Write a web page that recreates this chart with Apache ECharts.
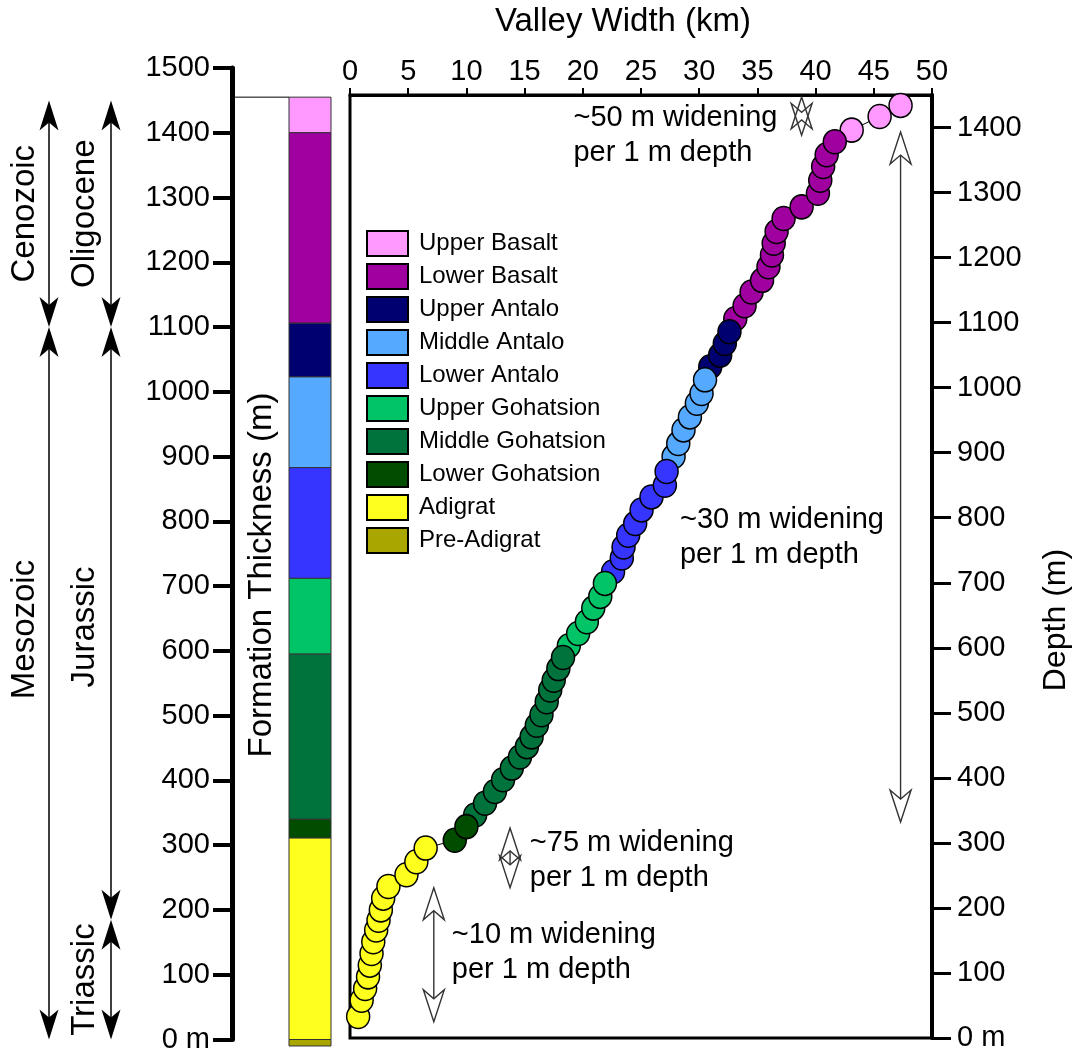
<!DOCTYPE html>
<html>
<head>
<meta charset="utf-8">
<script src="https://cdn.jsdelivr.net/npm/echarts@6/dist/echarts.min.js"></script>
<style>
  html, body { margin: 0; padding: 0; background: #fff; }
  #chart { width: 1076px; height: 1054px; }
</style>
</head>
<body>
<div id="chart"></div>
<script>
const FONT = '"Liberation Sans", Arial, Helvetica, sans-serif';

// Formations, youngest to oldest
const formationNames = ['Upper Basalt', 'Lower Basalt', 'Upper Antalo', 'Middle Antalo', 'Lower Antalo',
  'Upper Gohatsion', 'Middle Gohatsion', 'Lower Gohatsion', 'Adigrat', 'Pre-Adigrat'];
const formationColors = ['#ff99ff', '#a000a0', '#000070', '#55aaff', '#3535ff',
  '#00c466', '#00723c', '#004d00', '#ffff1e', '#aaa600'];

// Stratigraphic column: base and top of each formation (m above the base)
const formationBase = [1400, 1106, 1023, 883, 712, 595, 340, 311, 0, -10];
const formationTop  = [1455, 1400, 1106, 1023, 883, 712, 595, 340, 311, 0];

// Valley width (km) against depth (m), one list per formation
const upperBasalt = [[43.1, 1396], [45.5, 1417], [47.3, 1434]];
const lowerBasalt = [[33.1, 1106], [33.9, 1126], [34.5, 1147], [35.4, 1165], [35.95, 1186],
  [36.25, 1204], [36.4, 1222], [36.65, 1240], [37.25, 1260], [38.8, 1278], [40.2, 1299],
  [40.4, 1319], [40.65, 1340], [40.95, 1358], [41.65, 1378]];
const upperAntalo = [[30.95, 1032], [31.8, 1050], [32.2, 1068], [32.6, 1086]];
const middleAntalo = [[27.8, 894], [28.2, 914], [28.65, 935], [29.2, 955], [29.8, 976],
  [30.2, 991], [30.5, 1012]];
const lowerAntalo = [[22.6, 717], [23.35, 738], [23.5, 755], [23.9, 773], [24.5, 791],
  [25.05, 812], [25.9, 832], [27.05, 850], [27.2, 871]];
const upperGohatsion = [[18.8, 603], [19.6, 622], [20.35, 640], [20.9, 661], [21.5, 679], [21.9, 699]];
const middleGohatsion = [[10.75, 343], [11.6, 361], [12.45, 379], [13.15, 397], [13.9, 415],
  [14.6, 432], [15.2, 448], [15.6, 463], [16.05, 481], [16.45, 497], [16.9, 517], [17.2, 535],
  [17.5, 550], [17.9, 568], [18.3, 585]];
const lowerGohatsion = [[9.0, 304], [10.0, 325]];
const adigrat = [[0.7, 33], [1.0, 58], [1.3, 76], [1.55, 94], [1.7, 112], [1.85, 130], [2.0, 148],
  [2.25, 166], [2.45, 181], [2.65, 197], [2.85, 215], [3.3, 233], [4.85, 251], [5.7, 271], [6.5, 292]];
const preAdigrat = [];

const formationPoints = [upperBasalt, lowerBasalt, upperAntalo, middleAntalo, lowerAntalo,
  upperGohatsion, middleGohatsion, lowerGohatsion, adigrat, preAdigrat];

// Geological time spans (name, top m, base m)
const eras = [['Cenozoic', 1450, 1100], ['Mesozoic', 1100, 0]];
const periods = [['Oligocene', 1450, 1100], ['Jurassic', 1100, 185], ['Triassic', 185, 0]];

// Widening-rate notes: text, width (km), depth (m) of first line
const notes = [
  ['~50 m widening\nper 1 m depth', 19.2, 1415],
  ['~30 m widening\nper 1 m depth', 28.35, 796],
  ['~75 m widening\nper 1 m depth', 15.45, 300],
  ['~10 m widening\nper 1 m depth', 8.75, 158]
];
// Depth ranges the notes refer to: width (km), upper depth, lower depth
const rateRanges = [[38.8, 1447, 1388], [47.3, 1393, 332], [13.75, 323, 231], [7.2, 231, 25]];

// Axis extents
const DEPTH_MAX = 1450;      // top of the profile box
const DEPTH_TICK_MAX = 1400; // highest labelled depth
const THICK_MAX = 1500;
const WIDTH_MAX = 50;

// ---- layout ----
const PLOT_LEFT = 350, PLOT_RIGHT = 144, PLOT_TOP = 95, PLOT_BOTTOM = 16, PAGE_H = 1054;
const plotH = PAGE_H - PLOT_TOP - PLOT_BOTTOM;
// the labelled depth scale shares the profile's px-per-metre, but ends at the last tick
const tickTop = PAGE_H - PLOT_BOTTOM - DEPTH_TICK_MAX * plotH / DEPTH_MAX;

const COL_L = 57, COL_R = 99;          // column edges on the hidden x scale of the left panel
const ERA_ARROW_X = [49, 111];
const ERA_TEXT_X = [25, 85];
const labelDepthOverride = { Mesozoic: 633, Jurassic: 637 };

function renderStrat(params, api) {
  const i = api.value(2);
  const tl = api.coord([COL_L, api.value(1)]);
  const br = api.coord([COL_R, api.value(0)]);
  const children = [{
    type: 'rect',
    shape: { x: tl[0], y: tl[1], width: br[0] - tl[0], height: br[1] - tl[1] },
    style: { fill: formationColors[i], stroke: '#333', lineWidth: 1 }
  }];
  if (i === 0) {
    const a = api.coord([2, api.value(1)]);
    children.push({ type: 'line', shape: { x1: a[0], y1: a[1], x2: tl[0], y2: tl[1] },
      style: { stroke: '#000', lineWidth: 1 } });
  }
  return { type: 'group', children };
}

function solidHead(x, tip, dir) {
  // dir = 1 pointing up, -1 pointing down
  return {
    type: 'polygon',
    shape: { points: [[x, tip], [x - 9.5, tip + dir * 30], [x, tip + dir * 22], [x + 9.5, tip + dir * 30]] },
    style: { fill: '#000' }
  };
}

function renderSpans(params, api) {
  const col = api.value(2);
  const idx = api.value(3);
  const item = col === 0 ? eras[idx] : periods[idx];
  const x = ERA_ARROW_X[col];
  const yTop = api.coord([0, item[1]])[1];
  const yBot = api.coord([0, item[2]])[1];
  const mid = labelDepthOverride[item[0]] !== undefined ? labelDepthOverride[item[0]] : (item[1] + item[2]) / 2;
  const yMid = api.coord([0, mid])[1];
  return {
    type: 'group',
    children: [
      { type: 'line', shape: { x1: x, y1: yTop + 10, x2: x, y2: yBot - 10 }, style: { stroke: '#000', lineWidth: 1.5 } },
      solidHead(x, yTop, 1),
      solidHead(x, yBot, -1),
      { type: 'text', x: ERA_TEXT_X[col], y: yMid, rotation: Math.PI / 2,
        style: { text: item[0], font: '33px ' + FONT, fill: '#000', align: 'center', verticalAlign: 'middle' } }
    ]
  };
}

function hollowHead(x, tip, dir) {
  return {
    type: 'polygon',
    shape: { points: [[x, tip], [x - 10.5, tip + dir * 32], [x, tip + dir * 23], [x + 10.5, tip + dir * 32]] },
    style: { fill: null, stroke: '#333', lineWidth: 1.4 }
  };
}

function renderRates(params, api) {
  const p0 = api.coord([api.value(0), api.value(1)]);
  const p1 = api.coord([api.value(0), api.value(2)]);
  const x = p0[0];
  const n0 = p0[1] + 23, n1 = p1[1] - 23;
  const children = [];
  if (n1 > n0) {
    children.push({ type: 'line', shape: { x1: x, y1: n0, x2: x, y2: n1 }, style: { stroke: '#333', lineWidth: 1.4 } });
  }
  children.push(hollowHead(x, p0[1], 1), hollowHead(x, p1[1], -1));
  return { type: 'group', children };
}

function renderNotes(params, api) {
  const i = api.value(2);
  const p = api.coord([api.value(0), api.value(1)]);
  return {
    type: 'text', x: p[0], y: p[1] - 17.5,
    style: { text: notes[i][0], font: '29px ' + FONT, fill: '#000', align: 'left', verticalAlign: 'top', lineHeight: 35 }
  };
}

// profile line through every sample, ordered by depth
const profile = formationPoints.flat().slice().sort((a, b) => a[1] - b[1]);

const scatterSeries = formationNames.map((name, i) => ({
  name,
  type: 'scatter',
  xAxisIndex: 1,
  yAxisIndex: 1,
  data: formationPoints[i],
  symbol: 'circle',
  symbolSize: [23, 24],
  clip: false,
  z: 5,
  itemStyle: { color: formationColors[i], borderColor: '#000', borderWidth: 1.5, opacity: 1 }
}));

const depthLabel = v => (v === 0 ? '0 m' : String(v));

const chart = echarts.init(document.getElementById('chart'), null, { renderer: 'canvas' });

chart.setOption({
  animation: false,
  backgroundColor: '#fff',
  textStyle: { fontFamily: FONT },
  grid: [
    { left: 232, top: 68, width: 100, bottom: 14, containLabel: false },
    { left: PLOT_LEFT, top: PLOT_TOP, right: PLOT_RIGHT, bottom: PLOT_BOTTOM, containLabel: false,
      show: true, borderColor: '#000', borderWidth: 3, backgroundColor: 'transparent' },
    { left: PLOT_LEFT, top: tickTop, right: PLOT_RIGHT, bottom: PLOT_BOTTOM, containLabel: false }
  ],
  xAxis: [
    { gridIndex: 0, type: 'value', min: 0, max: 100, show: false, axisLine: { onZero: false } },
    {
      gridIndex: 1, type: 'value', position: 'top', min: 0, max: WIDTH_MAX, interval: 5,
      axisLine: { show: true, onZero: false, lineStyle: { color: '#000', width: 3 } },
      axisTick: { show: true, inside: false, length: 7, lineStyle: { color: '#000', width: 2 } },
      axisLabel: { color: '#000', fontSize: 29, fontFamily: FONT, margin: 9 },
      splitLine: { show: false }
    },
    { gridIndex: 2, type: 'value', min: 0, max: WIDTH_MAX, show: false, axisLine: { onZero: false } }
  ],
  yAxis: [
    {
      gridIndex: 0, type: 'value', position: 'left', min: 0, max: THICK_MAX, interval: 100,
      axisLine: { show: true, onZero: false, lineStyle: { color: '#000', width: 5 } },
      axisTick: { show: true, inside: false, length: 19, lineStyle: { color: '#000', width: 4 } },
      axisLabel: { color: '#000', fontSize: 29, fontFamily: FONT, margin: 22, formatter: depthLabel },
      splitLine: { show: false }
    },
    {
      gridIndex: 1, type: 'value', position: 'right', min: 0, max: DEPTH_MAX,
      axisLine: { show: true, onZero: false, lineStyle: { color: '#000', width: 4 } },
      axisTick: { show: false },
      axisLabel: { show: false },
      splitLine: { show: false }
    },
    {
      gridIndex: 2, type: 'value', position: 'right', min: 0, max: DEPTH_TICK_MAX, interval: 100,
      axisLine: { show: false, onZero: false },
      axisTick: { show: true, inside: false, length: 19, lineStyle: { color: '#000', width: 3 } },
      axisLabel: { color: '#000', fontSize: 29, fontFamily: FONT, margin: 25, formatter: depthLabel },
      splitLine: { show: false }
    }
  ],
  legend: {
    orient: 'vertical', left: 366, top: 230, padding: 0,
    itemWidth: 41, itemHeight: 25, itemGap: 6,
    icon: 'rect',
    selectedMode: false,
    data: formationNames,
    textStyle: { color: '#000', fontSize: 24, fontFamily: FONT, padding: [0, 0, 0, 6] }
  },
  graphic: [
    { type: 'text', x: 623, y: 22,
      style: { text: 'Valley Width (km)', font: '33px ' + FONT, fill: '#000', align: 'center', verticalAlign: 'middle' } },
    { type: 'text', x: 262, y: 575, rotation: Math.PI / 2,
      style: { text: 'Formation Thickness (m)', font: '33px ' + FONT, fill: '#000', align: 'center', verticalAlign: 'middle' } },
    { type: 'text', x: 1056, y: 620, rotation: Math.PI / 2,
      style: { text: 'Depth (m)', font: '32px ' + FONT, fill: '#000', align: 'center', verticalAlign: 'middle' } }
  ],
  series: [
    {
      name: 'column', type: 'custom', coordinateSystem: 'cartesian2d', xAxisIndex: 0, yAxisIndex: 0,
      clip: false, silent: true,
      data: formationNames.map((n, i) => [formationBase[i], formationTop[i], i]),
      encode: { y: [0, 1] },
      renderItem: renderStrat
    },
    {
      name: 'spans', type: 'custom', coordinateSystem: 'cartesian2d', xAxisIndex: 0, yAxisIndex: 0,
      clip: false, silent: true,
      data: eras.map((e, i) => [e[1], e[2], 0, i]).concat(periods.map((p, i) => [p[1], p[2], 1, i])),
      encode: { y: [0, 1] },
      renderItem: renderSpans
    },
    {
      name: 'profile', type: 'line', xAxisIndex: 1, yAxisIndex: 1,
      data: profile, showSymbol: false, symbol: 'none', silent: true, z: 1,
      lineStyle: { color: '#000', width: 1 }
    },
    ...scatterSeries,
    {
      name: 'rates', type: 'custom', coordinateSystem: 'cartesian2d', xAxisIndex: 1, yAxisIndex: 1,
      clip: false, silent: true, z: 3,
      data: rateRanges,
      encode: { x: 0, y: [1, 2] },
      renderItem: renderRates
    },
    {
      name: 'notes', type: 'custom', coordinateSystem: 'cartesian2d', xAxisIndex: 1, yAxisIndex: 1,
      clip: false, silent: true, z: 3,
      data: notes.map((n, i) => [n[1], n[2], i]),
      encode: { x: 0, y: 1 },
      renderItem: renderNotes
    }
  ]
});
</script>
</body>
</html>
